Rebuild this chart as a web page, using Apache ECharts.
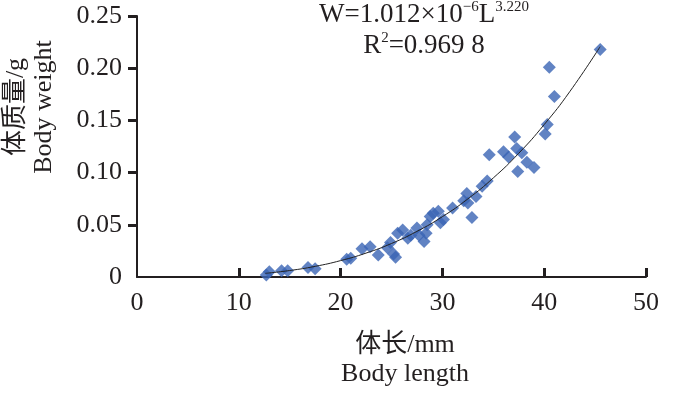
<!DOCTYPE html>
<html>
<head>
<meta charset="utf-8">
<script src="https://cdn.jsdelivr.net/npm/echarts@6/dist/echarts.min.js"></script>
<style>
  html, body { margin:0; padding:0; background:#fff; }
  #chart { width:700px; height:398px; }
</style>
</head>
<body>
<div id="chart"></div>
<script>
// ---- 數據 ----
const bodyLength = [12.7, 13.0, 14.2, 14.8, 16.8, 17.5, 20.6, 21.0, 22.1, 22.9,
  23.7, 24.6, 24.9, 25.2, 25.4, 25.6, 26.1, 26.6, 26.9, 27.5,
  27.7, 28.2, 28.4, 28.5, 28.8, 29.1, 29.6, 29.8, 30.1, 31.0,
  32.1, 32.4, 32.5, 32.9, 33.3, 33.9, 34.4, 34.6, 36.0, 36.5,
  37.1, 37.3, 37.4, 37.8, 38.3, 39.0, 40.1, 40.3, 40.5, 41.0, 45.5];
const bodyWeight = [0.002, 0.005, 0.006, 0.006, 0.009, 0.008, 0.017, 0.018, 0.027, 0.029,
  0.021, 0.028, 0.033, 0.022, 0.019, 0.042, 0.045, 0.037, 0.040, 0.047,
  0.040, 0.034, 0.042, 0.050, 0.058, 0.061, 0.063, 0.052, 0.055, 0.066,
  0.073, 0.080, 0.071, 0.057, 0.077, 0.087, 0.092, 0.117, 0.120, 0.115,
  0.134, 0.123, 0.101, 0.119, 0.110, 0.105, 0.137, 0.146, 0.201, 0.173, 0.218];

// 擬合曲線上讀出的點
const curveL = [12.6, 15, 17.5, 20, 22.5, 25, 27.5, 30, 32.5, 35, 37.5, 40, 42.5, 45.5];
const curveW = [0.0035, 0.0062, 0.0102, 0.0157, 0.0229, 0.0321, 0.0437, 0.0578,
  0.0748, 0.0949, 0.1185, 0.146, 0.1774, 0.2207];

const xTicks = [10, 20, 30, 40, 50];
const yTicks = [0.05, 0.10, 0.15, 0.20, 0.25];

const SERIF = "'Liberation Serif','Noto Sans CJK SC',serif";
const INK = '#231f20';

const chart = echarts.init(document.getElementById('chart'), null, { renderer:'canvas' });
chart.setOption({
  backgroundColor:'#fff',
  animation:false,
  grid:{ left:137, right:54, top:16, bottom:121, outerBoundsMode:'none' },
  xAxis:{
    type:'value', min:0, max:50, interval:10,
    axisLine:{ lineStyle:{ color:INK, width:2 } },
    axisTick:{ inside:true, length:9, customValues:xTicks, lineStyle:{ color:INK, width:3 } },
    axisLabel:{ margin:13, color:INK, fontFamily:SERIF, fontSize:26 },
    splitLine:{ show:false }
  },
  yAxis:{
    type:'value', min:0, max:0.25, interval:0.05,
    axisLine:{ show:true, lineStyle:{ color:INK, width:2 } },
    axisTick:{ show:true, length:9, customValues:yTicks, lineStyle:{ color:INK, width:3 } },
    axisLabel:{ margin:15, color:INK, fontFamily:SERIF, fontSize:26,
      formatter: v => v === 0 ? '0' : v.toFixed(2) },
    splitLine:{ show:false }
  },
  series:[
    {
      type:'scatter',
      symbol:'diamond', symbolSize:13,
      itemStyle:{ color:'#3964b4' },
      data: bodyLength.map((x, i) => [x, bodyWeight[i]]),
      z:2
    },
    {
      type:'line',
      smooth:true, showSymbol:false,
      lineStyle:{ color:'#222', width:1 },
      data: curveL.map((x, i) => [x, curveW[i]]),
      z:3
    }
  ],
  graphic:[
    {
      type:'text', x:424, y:-3,
      style:{
        text:'{m|W=1.012×10}{s|−6}{m|L}{s|3.220}\n{m|R}{s|2}{m|=0.969 8}',
        align:'center',
        fill:INK,
        rich:{
          m:{ fontFamily:SERIF, fontSize:27, lineHeight:31, verticalAlign:'bottom' },
          s:{ fontFamily:SERIF, fontSize:15, lineHeight:18, verticalAlign:'top', padding:[3,0,0,0] }
        }
      }
    },
    {
      type:'text', x:405, y:360,
      style:{
        text:'体长/mm\nBody length',
        fontFamily:SERIF, fontSize:26, lineHeight:29,
        fill:INK, align:'center', verticalAlign:'middle'
      }
    },
    {
      type:'text', x:30, y:107, rotation:Math.PI/2,
      style:{
        text:'体质量/g\nBody weight',
        fontFamily:SERIF, fontSize:26, lineHeight:28,
        fill:INK, align:'center', verticalAlign:'middle'
      }
    }
  ]
});
</script>
</body>
</html>
